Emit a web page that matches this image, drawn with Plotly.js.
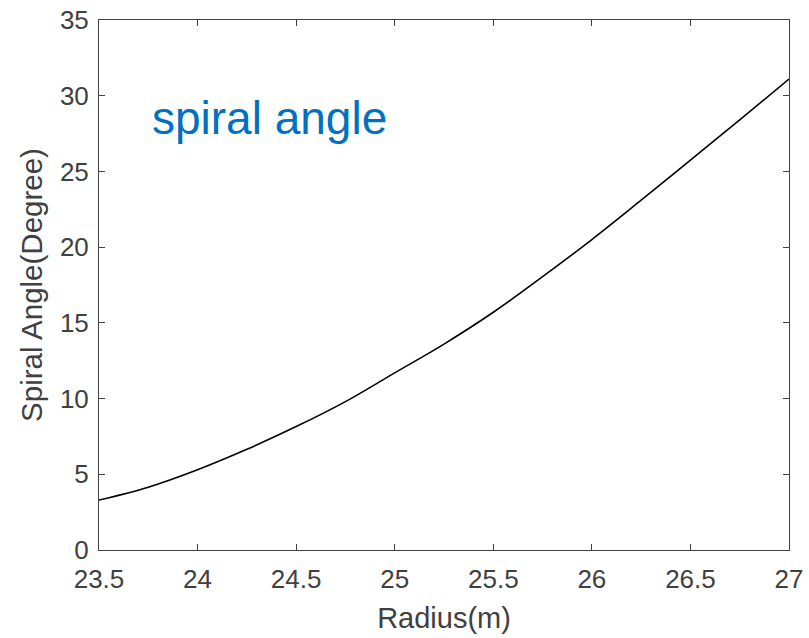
<!DOCTYPE html>
<html>
<head>
<meta charset="utf-8">
<script src="https://cdn.plot.ly/plotly-3.0.1.min.js"></script>
<style>html,body{margin:0;padding:0;background:#fff;}#chart{width:809px;height:638px;}</style>
</head>
<body>
<div id="chart"></div>
<script>
const radius = [23.5, 23.75, 24.0, 24.25, 24.5, 24.75, 25.0, 25.25, 25.5, 25.75, 26.0, 26.25, 26.5, 26.75, 27.0];
const spiralAngle = [3.3, 4.15, 5.3, 6.65, 8.15, 9.8, 11.7, 13.6, 15.7, 18.05, 20.5, 23.1, 25.75, 28.4, 31.1];
const xTicks = [23.5, 24, 24.5, 25, 25.5, 26, 26.5, 27];
const xTickLabels = ['23.5', '24', '24.5', '25', '25.5', '26', '26.5', '27'];
const yTicks = [0, 5, 10, 15, 20, 25, 30, 35];
const annotationText = 'spiral angle';

const font = 'Arial, "Liberation Sans", sans-serif';
const axisColor = '#404040';

const trace = {
  x: radius, y: spiralAngle, type: 'scatter', mode: 'lines',
  line: {color: '#000000', width: 1.6, shape: 'spline', smoothing: 1},
  hoverinfo: 'skip', showlegend: false
};

const layout = {
  width: 809, height: 638,
  margin: {l: 99, r: 20, t: 20, b: 88},
  paper_bgcolor: '#ffffff', plot_bgcolor: '#ffffff',
  xaxis: {
    range: [23.5, 27], tickvals: xTicks, ticktext: xTickLabels,
    ticks: 'inside', ticklen: 6, tickwidth: 1, tickcolor: axisColor,
    showline: true, linecolor: axisColor, linewidth: 1, mirror: 'ticks',
    showgrid: false, zeroline: false, ticklabelstandoff: 6,
    tickfont: {family: font, size: 26, color: axisColor},
    title: {text: 'Radius(m)', font: {family: font, size: 29, color: axisColor}, standoff: 14}
  },
  yaxis: {
    range: [0, 35], tickvals: yTicks,
    ticks: 'inside', ticklen: 6, tickwidth: 1, tickcolor: axisColor,
    showline: true, linecolor: axisColor, linewidth: 1, mirror: 'ticks',
    showgrid: false, zeroline: false, ticklabelstandoff: 4,
    tickfont: {family: font, size: 26, color: axisColor},
    title: {text: 'Spiral Angle(Degree)', font: {family: font, size: 29.5, color: axisColor}, standoff: 8}
  },
  annotations: [{
    x: 23.76, y: 28.5, xref: 'x', yref: 'y', xanchor: 'left', yanchor: 'middle',
    text: annotationText, showarrow: false,
    font: {family: font, size: 46, color: '#0070C0'}
  }]
};

Plotly.newPlot('chart', [trace], layout, {staticPlot: true, displayModeBar: false});
</script>
</body>
</html>
